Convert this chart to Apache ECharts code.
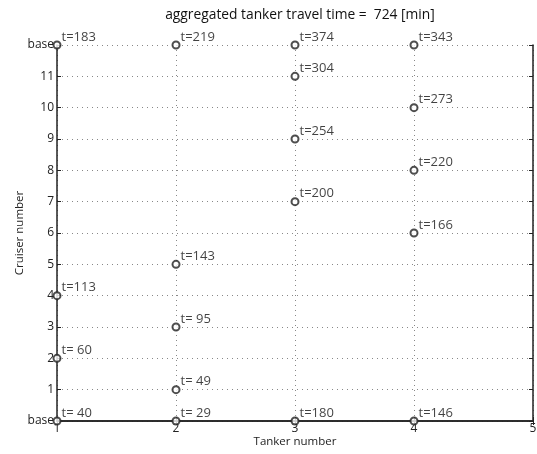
<!DOCTYPE html>
<html lang="en">
<head>
    <meta charset="UTF-8">
    <title>Tanker routes</title>
    <script src="https://cdn.jsdelivr.net/npm/echarts@6.0.0/dist/echarts.min.js"></script>
    <style>body{margin:0;background:#fff;}</style>
</head>
<body>
<div id="main" style="width:537px;height:454px;"></div>
<script type="text/javascript">
    // one entry per tanker: cruiser stops (0 and 12 = base) and arrival times
    const tankers = [1, 2, 3, 4];
    const stops1 = [0, 2, 4, 12];
    const times1 = [40, 60, 113, 183];
    const stops2 = [0, 1, 3, 5, 12];
    const times2 = [29, 49, 95, 143, 219];
    const stops3 = [0, 7, 9, 11, 12];
    const times3 = [180, 200, 254, 304, 374];
    const stops4 = [0, 6, 8, 10, 12];
    const times4 = [146, 166, 220, 273, 343];
    const yTickLabels = ['base', '1', '2', '3', '4', '5', '6', '7', '8', '9', '10', '11', 'base'];
    const totalTime = 724;

    const allStops = [stops1, stops2, stops3, stops4];
    const allTimes = [times1, times2, times3, times4];

    // MATLAB-like num2str padding: "t= 40" for two digits
    function tLabel(v) {
        return 't=' + (v < 100 ? ' ' : '') + v;
    }

    const points = [];
    tankers.forEach((tk, i) => {
        allStops[i].forEach((s, j) => {
            points.push({ value: [tk, s], t: allTimes[i][j] });
        });
    });

    const tickFont = { fontFamily: 'Open Sans', fontSize: 12, color: '#222' };

    let options = {
        animation: false,
        title: {
            text: 'aggregated tanker travel time =  ' + totalTime + ' [min]',
            left: 295, top: 3, textAlign: 'center',
            textStyle: { fontFamily: 'Open Sans', fontSize: 13.8, fontWeight: 'normal', color: '#111' }
        },
        grid: { left: 57, right: 4, top: 45, bottom: 33, outerBoundsMode: 'none', containLabel: false },
        xAxis: [{
            type: 'value', min: 1, max: 5, interval: 1,
            name: 'Tanker number', nameLocation: 'middle', nameGap: 21, nameMoveOverlap: false,
            nameTextStyle: { fontFamily: 'Open Sans', fontSize: 11.5, color: '#222', verticalAlign: 'middle' },
            axisLine: { lineStyle: { color: '#222', width: 1.5 } },
            axisTick: { inside: true, length: 4, lineStyle: { color: '#222' } },
            axisLabel: Object.assign({ margin: 2 }, tickFont),
            splitLine: { show: true, lineStyle: { type: [1, 4], color: '#888' } }
        }, {
            type: 'value', min: 1, max: 5, interval: 1, position: 'top',
            axisLine: { lineStyle: { color: '#222', width: 1.5 } },
            axisTick: { inside: true, length: 4, lineStyle: { color: '#222' } },
            axisLabel: { show: false }, splitLine: { show: false }
        }],
        yAxis: [{
            type: 'value', min: 0, max: 12, interval: 1,
            name: 'Cruiser number', nameLocation: 'middle', nameGap: 37, nameMoveOverlap: false,
            nameTextStyle: { fontFamily: 'Open Sans', fontSize: 11.5, color: '#222', verticalAlign: 'middle' },
            axisLine: { lineStyle: { color: '#222', width: 1.5 } },
            axisTick: { inside: true, length: 4, lineStyle: { color: '#222' } },
            axisLabel: Object.assign({
                margin: 3,
                formatter: (v) => yTickLabels[v]
            }, tickFont),
            splitLine: { show: true, lineStyle: { type: [1, 4], color: '#888' } }
        }, {
            type: 'value', min: 0, max: 12, interval: 1, position: 'right',
            axisLine: { lineStyle: { color: '#222', width: 1.5 } },
            axisTick: { inside: true, length: 4, lineStyle: { color: '#222' } },
            axisLabel: { show: false }, splitLine: { show: false }
        }],
        series: [{
            type: 'scatter',
            symbol: 'emptyCircle',
            symbolSize: 7,
            itemStyle: { color: '#222', borderColor: '#222', borderWidth: 0.8 },
            data: points,
            z: 5,
            label: {
                show: true, position: 'right', distance: 0, offset: [0, -8],
                fontFamily: 'Open Sans', fontSize: 13, color: '#111',
                formatter: (p) => tLabel(p.data.t)
            }
        }]
    };
    let myChart = echarts.init(document.getElementById('main'));
    myChart.setOption(options);
</script>
</body>
</html>
